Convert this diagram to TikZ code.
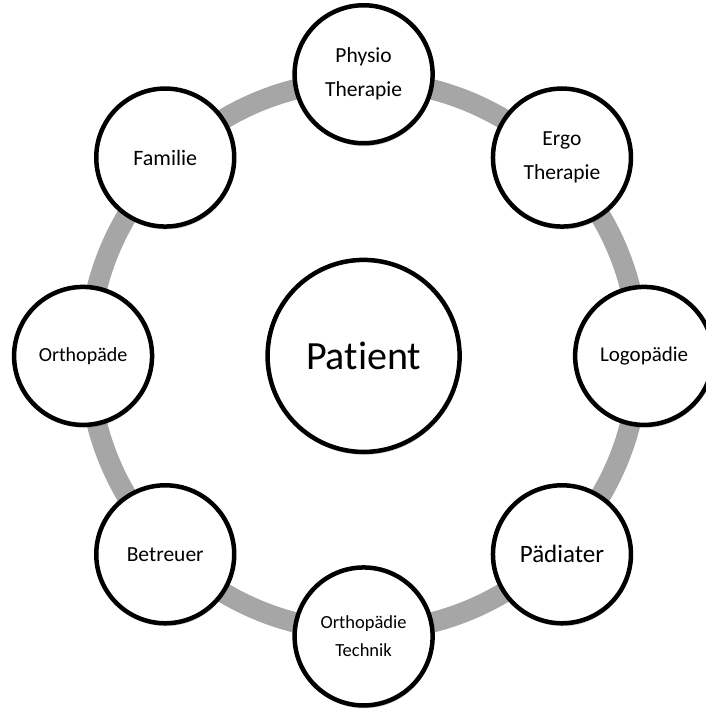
\documentclass[tikz,border=0pt]{standalone}
\usepackage{fontspec}
\setmainfont{Carlito}[Ligatures=NoCommon]
\usetikzlibrary{shadows}

\begin{document}
\begin{tikzpicture}
\tikzstyle{kreis}=[circle,draw,line width=4.5pt,fill=white,minimum size=4.85cm,inner sep=0pt,align=center,font=\fontsize{21.5}{34}\selectfont,drop shadow={shadow xshift=0.03cm,shadow yshift=-0.1cm,opacity=0.18,fill=black}]

\useasboundingbox (-12.78,-12.41) rectangle (12.0,12.51);

\draw[line width=0.72cm,color=gray!70] (0,0) circle (9.67);

\node[kreis,minimum size=6.75cm,font=\fontsize{40}{46}\selectfont] (patient) at (0,0) {Patient};

\node[kreis] (physio) at (90:9.9) {Physio\\Therapie};
\node[kreis] (ergo) at (45:9.86) {Ergo\\Therapie};
\node[kreis,font=\fontsize{21}{34}\selectfont] (logo) at (0:9.86) {Logopädie};
\node[kreis,font=\fontsize{25}{34}\selectfont] (paed) at (-45:9.86) {Pädiater};
\node[kreis,font=\fontsize{18.5}{28}\selectfont] (technik) at (-90:9.86) {Orthopädie\\Technik};
\node[kreis] (betreuer) at (-135:9.86) {Betreuer};
\node[kreis,font=\fontsize{20}{34}\selectfont] (orthopaede) at (180:9.86) {Orthopäde};
\node[kreis,font=\fontsize{22}{34}\selectfont] (familie) at (135:9.86) {Familie};
\end{tikzpicture}
\end{document}
